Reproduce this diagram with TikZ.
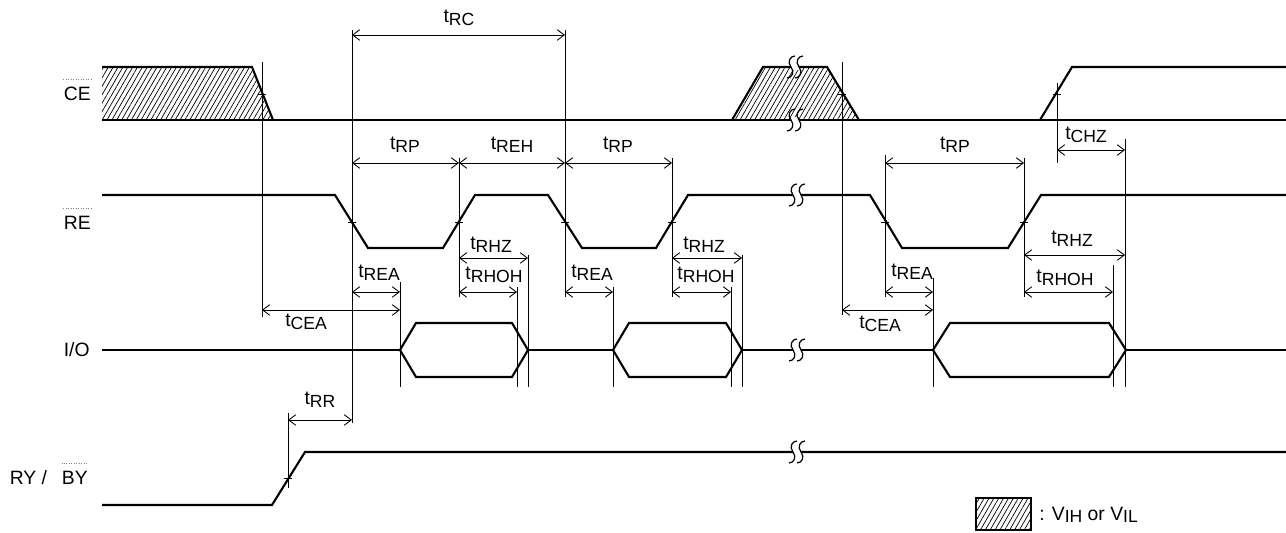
\documentclass[tikz,border=0pt]{standalone}
\usepackage{fontspec}
\setmainfont{Liberation Sans}
\usetikzlibrary{arrows.meta,patterns.meta}
\newcommand{\dsub}[1]{\raisebox{-1.5pt}{\fontsize{10}{12}\selectfont #1}}

\begin{document}
\begin{tikzpicture}
  [x=0.02cm,y=-0.02cm,
   sig/.style={line width=1.2pt,line join=miter},
   guide/.style={line width=0.5pt},
   dim/.style={line width=0.5pt,{Straight Barb[length=4pt,width=6pt]}-{Straight Barb[length=4pt,width=6pt]}},
   hatch/.style={pattern={Lines[angle=60,distance=2.4pt,line width=0.4pt]}},
   bar/.style={densely dotted,line width=0.4pt,gray},
   brk/.pic={
     \fill[white] (-4,-3) rectangle (4,3);
     \foreach \d in {-4,4}
       \draw[line width=0.7pt] (\d+4,-11) .. controls (\d-1,-11) and (\d-4,-5) .. (\d,0)
                    .. controls (\d+4,5) and (\d+1,11) .. (\d-4,11);
   },
   every node/.style={inner sep=0pt,font=\fontsize{11}{13}\selectfont}]
  \useasboundingbox (0,0) rectangle (1286,533);

  % signal names
  \node[anchor=east] (ce) at (91,94) {CE};
  \node[anchor=east] (re) at (91,223) {RE};
  \node[anchor=east] (io) at (90,350) {I/O};
  \node[anchor=east] (by) at (88,478) {BY};
  \node[anchor=east] (ry) at ([xshift=-8pt]by.west) {RY /};
  \foreach \n in {ce,re,by}
    \draw[bar] ([yshift=4.5pt]\n.north west) -- ([yshift=4.5pt]\n.north east);

  % hatched parts of CE
  \path[hatch] (102,67) -- (252,67) -- (273,120) -- (102,120) -- cycle;
  \path[hatch] (732,120) -- (763,67) -- (827,67) -- (859,120) -- cycle;

  % CE
  \draw[sig] (102,67) -- (252,67) -- (273,120);
  \draw[sig] (732,120) -- (763,67) -- (827,67) -- (859,120);
  \draw[sig] (102,120) -- (1286,120);
  \draw[sig] (1040,120) -- (1072,67) -- (1286,67);
  % RE
  \draw[sig] (102,195) -- (335,195) -- (368,248) -- (443,248) -- (475,195) -- (548,195)
    -- (582,248) -- (656,248) -- (688,195) -- (870,195) -- (902,248) -- (1008,248)
    -- (1041,195) -- (1286,195);
  % I/O
  \draw[sig] (102,350) -- (400,350) (528,350) -- (613,350) (742,350) -- (933,350)
    (1126,350) -- (1286,350);
  \foreach \a/\b/\c/\e in {400/416/512/528,613/629/726/742,933/950/1109/1126}
    \draw[sig] (\a,350) -- (\b,323) -- (\c,323) -- (\e,350) -- (\c,377) -- (\b,377) -- cycle;
  % RY/BY
  \draw[sig] (102,505) -- (272,505) -- (305,452) -- (1286,452);

  % breaks
  \foreach \x/\y in {795/67,795/120,797/195,797/350,797/452}
    \pic at (\x,\y) {brk};

  % guide lines
  \foreach \x/\ya/\yb in {262/62/317,352/30/423,459/158/297,565/30/297,672/158/297,
      842/62/315,885/155/297,1024/158/297,1057/83/163,1125/139/387,400/282/387,
      517/287/387,528/255/387,613/287/387,731/287/387,742/255/387,933/278/387,
      1113/265/387,288/413/488}
    \draw[guide] (\x,\ya) -- (\x,\yb);

  % crossing marks
  \foreach \x/\y in {262/94,352/222,459/222,565/222,672/222,842/94,885/222,
      1024/222,1057/94,288/478}
    \draw[guide] (\x-4,\y) -- (\x+4,\y);

  % timings
  \foreach \a/\b/\y in {352/565/35,352/459/163,459/565/163,565/672/163,885/1024/163,
      1057/1125/150,459/528/258,459/517/292,352/400/292,262/400/310,565/613/292,
      672/742/258,672/731/292,885/933/292,842/933/310,1024/1125/255,1024/1113/292,
      288/352/420}
    \draw[dim] (\a,\y) -- (\b,\y);

  \foreach \lab/\x/\y [count=\i] in {RC/459/18,RP/405/145,REH/512/145,RP/618/145,
      RP/955/145,CHZ/1086/135,RHZ/491/245,RHOH/494/275,REA/379/273,CEA/306/322,
      REA/592/273,RHZ/704/245,RHOH/706/275,REA/912/272,CEA/880/324,RHZ/1072/239,
      RHOH/1065/278,RR/320/400}
    \node (t\i) at (\x,\y) {t\dsub{\lab}};

  % legend
  \draw[hatch,line width=1.2pt] (976,498) rectangle (1031,530);
  \node[anchor=west] (key) at (1039,515) {: V\dsub{IH} or V\dsub{IL}};
\end{tikzpicture}
\end{document}
